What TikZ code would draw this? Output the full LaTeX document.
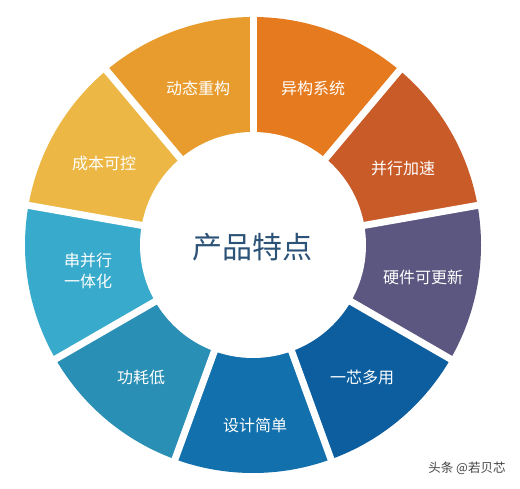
\documentclass[tikz,border=0pt]{standalone}
\usepackage{fontspec}
\setmainfont{Noto Sans CJK SC}
\definecolor{cA}{HTML}{E67A1F}
\definecolor{cB}{HTML}{C95B28}
\definecolor{cC}{HTML}{5C5780}
\definecolor{cD}{HTML}{0D5E9F}
\definecolor{cE}{HTML}{1271AD}
\definecolor{cF}{HTML}{2A8FB4}
\definecolor{cG}{HTML}{38AACB}
\definecolor{cH}{HTML}{EDB745}
\definecolor{cI}{HTML}{E89C2E}
\definecolor{ctitle}{HTML}{2C5277}
\definecolor{cmark}{HTML}{444444}
\begin{document}
\begin{tikzpicture}[x=1pt,y=1pt,
  seglabel/.style={text=white,font=\fontsize{16}{21}\selectfont,align=center,inner sep=0pt},
  sep/.style={white,line width=7pt}]
\useasboundingbox (0,0) rectangle (520,488);
\fill[white] (0,0) rectangle (520,488);
\coordinate (c) at (253,243);
\foreach \a/\col in {50/cA,10/cB,-30/cC,-70/cD,-110/cE,-150/cF,-190/cG,130/cH,90/cI}{
  \pgfmathsetmacro{\b}{\a+40}
  \fill[\col] (c) -- +(\a:228) arc[start angle=\a,end angle=\b,radius=228] -- cycle;
}
\foreach \a in {90,50,10,-30,-70,-110,-150,170,130}{
  \draw[sep] (c) -- +(\a:240);
}
\fill[white] (c) circle (113);
\node[seglabel] (s1) at (313,400) {异构系统};
\node[seglabel] (s2) at (403,320) {并行加速};
\node[seglabel] (s3) at (423,211) {硬件可更新};
\node[seglabel] (s4) at (362,111) {一芯多用};
\node[seglabel] (s5) at (255,63) {设计简单};
\node[seglabel] (s6) at (141,111) {功耗低};
\node[seglabel] (s7) at (88,217) {串并行\\一体化};
\node[seglabel] (s8) at (104,325) {成本可控};
\node[seglabel] (s9) at (198,400) {动态重构};
\node[text=ctitle,font=\fontsize{30}{36}\selectfont,inner sep=0pt] (title) at (252,241) {产品特点};
\node[text=cmark,font=\fontsize{12.5}{15}\selectfont,inner sep=0pt] (mark) at (467,20) {头条 @若贝芯};
\end{tikzpicture}
\end{document}
